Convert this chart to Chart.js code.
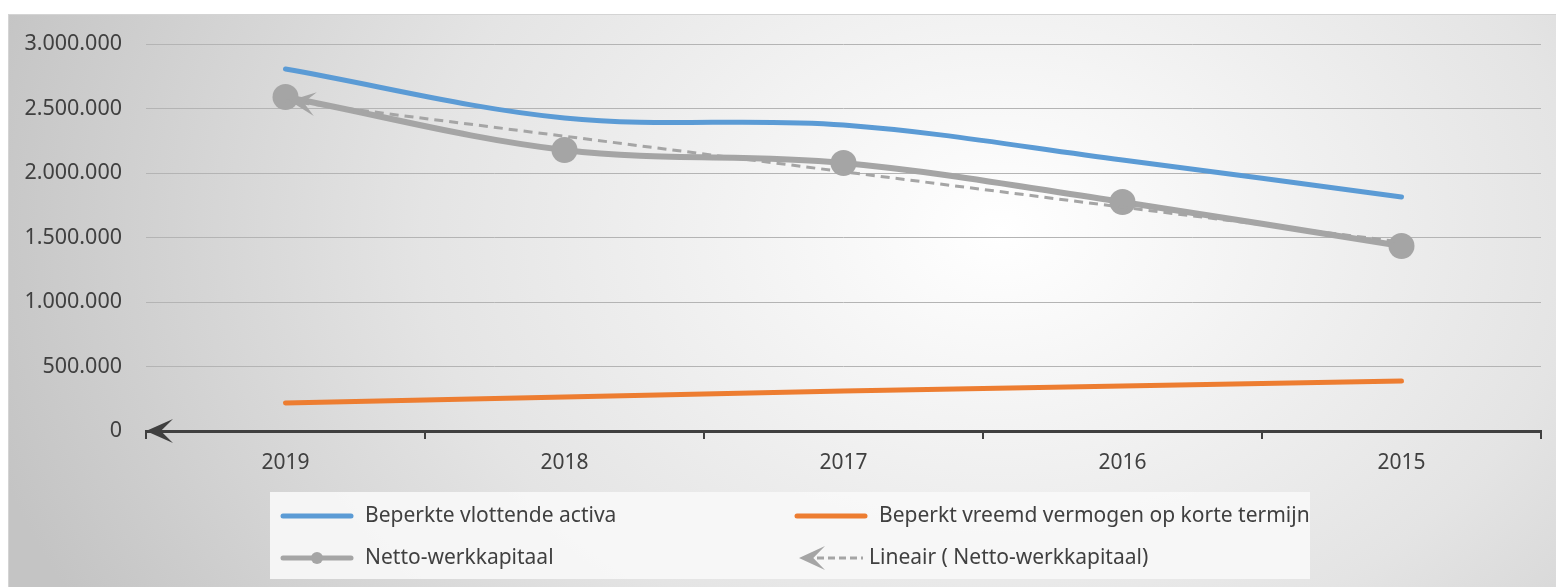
<!DOCTYPE html>
<html>
<head>
<meta charset="utf-8">
<script src="https://cdn.jsdelivr.net/npm/chart.js@4.4.0/dist/chart.umd.min.js"></script>
<style>
  html, body { margin: 0; padding: 0; background: #fff; }
</style>
</head>
<body>
<canvas id="grafiek" width="1556" height="587"></canvas>
<script>
const jaren = ["2019", "2018", "2017", "2016", "2015"];
const vlottendeActiva = [2806000, 2426000, 2372000, 2101000, 1814000];
const vreemdVermogen = [217000, 264000, 310000, 349000, 388000];
const nettoWerkkapitaal = [2589000, 2178000, 2078000, 1775000, 1434000];
const trendNetto = [2560000, 2285000, 2010000, 1735000, 1465000];

const labels = [
  "Beperkte vlottende activa",
  "Beperkt vreemd vermogen op korte termijn",
  "Netto-werkkapitaal",
  "Lineair ( Netto-werkkapitaal)"
];

const BLAUW = "#5b9bd5", ORANJE = "#ed7d31", GRIJS = "#a5a5a5", TEKST = "#404040";
const FONT = "'Noto Sans', sans-serif";

function formatNL(v) {
  return String(v).replace(/\B(?=(\d{3})+(?!\d))/g, ".");
}

// pijlpunt (stealth) met de punt op (x, y), richting hoek
function pijl(ctx, x, y, hoek, lengte, breedte, kleur) {
  ctx.save();
  ctx.translate(x, y);
  ctx.rotate(hoek);
  ctx.beginPath();
  ctx.moveTo(0, 0);
  ctx.lineTo(lengte, -breedte);
  ctx.lineTo(lengte * 0.55, 0);
  ctx.lineTo(lengte, breedte);
  ctx.closePath();
  ctx.fillStyle = kleur;
  ctx.fill();
  ctx.restore();
}

const achtergrond = {
  id: "achtergrond",
  beforeDraw(chart) {
    const ctx = chart.ctx;
    ctx.save();
    ctx.fillStyle = "#fff";
    ctx.fillRect(0, 0, chart.width, chart.height);
    ctx.translate(1000, 230);
    ctx.scale(1, 0.75);
    const g = ctx.createRadialGradient(0, 0, 0, 0, 0, 1050);
    g.addColorStop(0, "#ffffff");
    g.addColorStop(0.55, "#e4e4e4");
    g.addColorStop(1, "#c4c4c4");
    ctx.fillStyle = g;
    ctx.fillRect(-992, -216 / 0.75, 1556, 600 / 0.75);
    ctx.restore();
    ctx.save();
    ctx.strokeStyle = "#d4d4d4";
    ctx.lineWidth = 1;
    ctx.strokeRect(8.5, 14.5, 1560, 600);
    ctx.restore();
  }
};

const pijlen = {
  id: "pijlen",
  afterDatasetsDraw(chart) {
    const ctx = chart.ctx;
    const y0 = chart.scales.y.getPixelForValue(0);
    pijl(ctx, chart.chartArea.left, y0, 0, 27, 12, TEKST);

    const pts = chart.getDatasetMeta(3).data;
    const a = pts[0], b = pts[1];
    const hoek = Math.atan2(b.y - a.y, b.x - a.x);
    pijl(ctx, a.x + 4, a.y, hoek, 26, 12, GRIJS);
  }
};

const legenda = {
  id: "legenda",
  afterDraw(chart) {
    const ctx = chart.ctx;
    ctx.save();
    ctx.fillStyle = "rgba(248,248,248,0.9)";
    ctx.fillRect(270, 492, 1040, 87);
    ctx.font = "21px " + FONT;
    ctx.fillStyle = TEKST;
    ctx.textBaseline = "middle";
    ctx.lineCap = "round";
    const posities = [[283, 516], [797, 516], [283, 558], [797, 558]];
    chart.data.datasets.forEach((ds, i) => {
      const [x, y] = posities[i];
      ctx.strokeStyle = ds.borderColor;
      if (i < 3) {
        ctx.lineWidth = 5;
        ctx.setLineDash([]);
        ctx.beginPath();
        ctx.moveTo(x, y);
        ctx.lineTo(x + 68, y);
        ctx.stroke();
        if (i === 2) {
          ctx.fillStyle = GRIJS;
          ctx.beginPath();
          ctx.arc(x + 34, y, 6, 0, Math.PI * 2);
          ctx.fill();
        }
        ctx.fillStyle = TEKST;
        ctx.textAlign = "left";
        ctx.fillText(labels[i], x + 82, y);
      } else {
        ctx.lineWidth = 3;
        ctx.lineCap = "butt";
        ctx.setLineDash([7, 4]);
        ctx.beginPath();
        ctx.moveTo(x + 20, y);
        ctx.lineTo(x + 66, y);
        ctx.stroke();
        ctx.setLineDash([]);
        pijl(ctx, x + 2, y, 0, 26, 12, GRIJS);
        ctx.fillStyle = TEKST;
        ctx.fillText(labels[i], x + 72, y);
      }
    });
    ctx.restore();
  }
};

new Chart(document.getElementById("grafiek"), {
  type: "line",
  data: {
    labels: jaren,
    datasets: [
      {
        label: labels[0],
        data: vlottendeActiva,
        borderColor: BLAUW,
        borderWidth: 5,
        pointRadius: 0,
        tension: 0.35,
        borderCapStyle: "round",
        order: 1
      },
      {
        label: labels[1],
        data: vreemdVermogen,
        borderColor: ORANJE,
        borderWidth: 5,
        pointRadius: 0,
        tension: 0.35,
        borderCapStyle: "round",
        order: 1
      },
      {
        label: labels[2],
        data: nettoWerkkapitaal,
        borderColor: GRIJS,
        backgroundColor: GRIJS,
        borderWidth: 6,
        pointRadius: 13,
        pointBorderWidth: 0,
        tension: 0.35,
        order: 2
      },
      {
        label: labels[3],
        data: trendNetto,
        borderColor: GRIJS,
        borderWidth: 3,
        borderDash: [9, 6],
        pointRadius: 0,
        tension: 0,
        order: 0
      }
    ]
  },
  options: {
    responsive: false,
    animation: false,
    layout: { autoPadding: false, padding: { top: 44, right: 15, left: 0, bottom: 0 } },
    plugins: { legend: { display: false }, tooltip: { enabled: false } },
    scales: {
      y: {
        min: 0,
        max: 3000000,
        ticks: {
          stepSize: 500000,
          color: TEKST,
          padding: 24,
          font: { family: FONT, size: 21.5 },
          callback: v => formatNL(v)
        },
        grid: { color: "#b4b4b4", lineWidth: 1, drawTicks: false },
        border: { display: false },
        afterFit: s => { s.width = 146; }
      },
      x: {
        offset: true,
        ticks: {
          color: TEKST,
          padding: 11,
          font: { family: FONT, size: 21 }
        },
        grid: {
          offset: true,
          drawOnChartArea: false,
          tickLength: 8,
          color: TEKST,
          lineWidth: 2
        },
        border: { color: TEKST, width: 3 },
        afterFit: s => { s.height = 156; }
      }
    }
  },
  plugins: [achtergrond, pijlen, legenda]
});
</script>
</body>
</html>
